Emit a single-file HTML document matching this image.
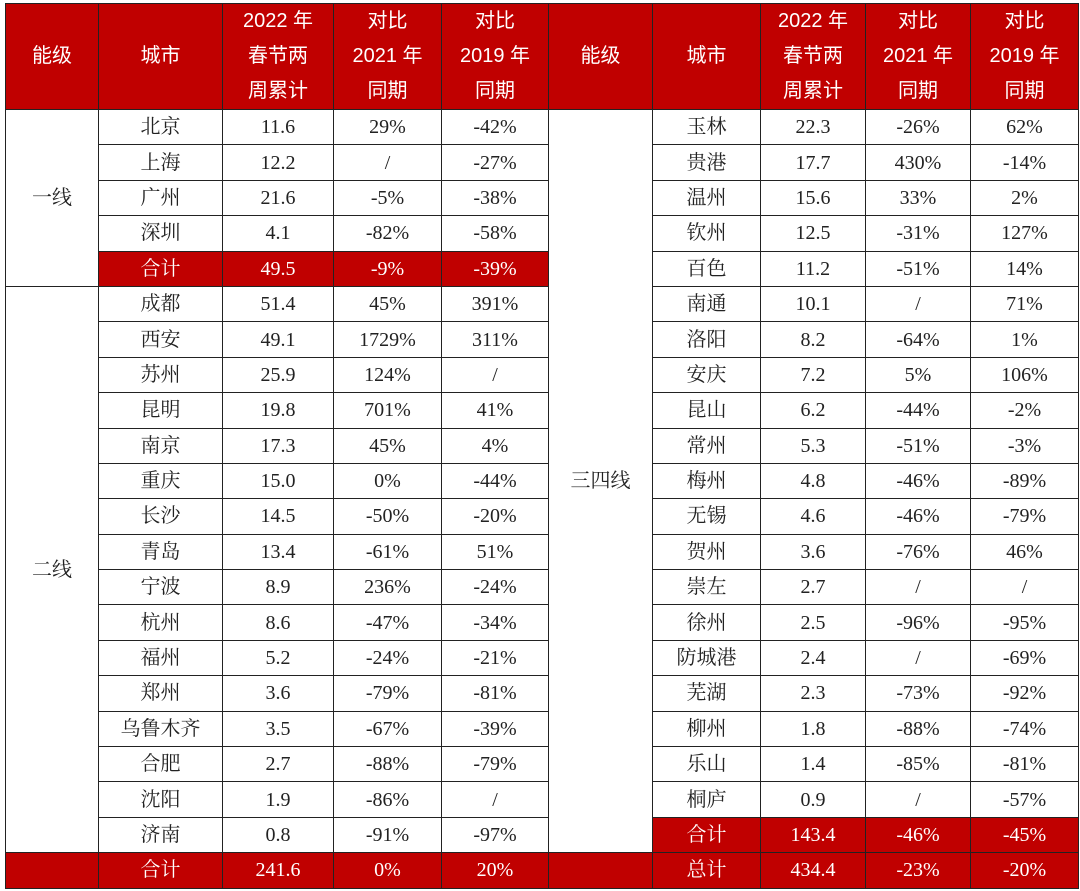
<!DOCTYPE html>
<html><head><meta charset="utf-8">
<style>
html,body{margin:0;padding:0;background:#fff;width:1080px;height:891px;overflow:hidden}
table{position:absolute;left:5px;top:3px;border-collapse:collapse;table-layout:fixed;width:1073px}
td{border:1px solid #222;text-align:center;padding:0;font-family:"Liberation Serif","Noto Serif CJK SC",serif;font-size:20px;color:#222;height:34.4px;line-height:20px;overflow:hidden;white-space:nowrap}
tr.hd td{background:#c00000;color:#fff;font-family:"Liberation Sans","Noto Sans CJK SC",sans-serif;font-size:20px;height:104px;line-height:35px;white-space:normal}
td.red{background:#c00000;color:#fff}
</style></head><body>
<table>
<colgroup><col style="width:93px"><col style="width:124px"><col style="width:111px"><col style="width:108px"><col style="width:107px"><col style="width:104px"><col style="width:108px"><col style="width:105px"><col style="width:105px"><col style="width:108px"></colgroup>
<tbody id="tb">
<tr class="hd">
<td>能级</td>
<td>城市</td>
<td>2022 年<br>春节两<br>周累计</td>
<td>对比<br>2021 年<br>同期</td>
<td>对比<br>2019 年<br>同期</td>
<td>能级</td>
<td>城市</td>
<td>2022 年<br>春节两<br>周累计</td>
<td>对比<br>2021 年<br>同期</td>
<td>对比<br>2019 年<br>同期</td>
</tr>
</tbody></table>
<script>
const leftCities=["北京","上海","广州","深圳","合计","成都","西安","苏州","昆明","南京","重庆","长沙","青岛","宁波","杭州","福州","郑州","乌鲁木齐","合肥","沈阳","济南","合计"];
const leftVal=["11.6","12.2","21.6","4.1","49.5","51.4","49.1","25.9","19.8","17.3","15.0","14.5","13.4","8.9","8.6","5.2","3.6","3.5","2.7","1.9","0.8","241.6"];
const left21=["29%","/","-5%","-82%","-9%","45%","1729%","124%","701%","45%","0%","-50%","-61%","236%","-47%","-24%","-79%","-67%","-88%","-86%","-91%","0%"];
const left19=["-42%","-27%","-38%","-58%","-39%","391%","311%","/","41%","4%","-44%","-20%","51%","-24%","-34%","-21%","-81%","-39%","-79%","/","-97%","20%"];
const rightCities=["玉林","贵港","温州","钦州","百色","南通","洛阳","安庆","昆山","常州","梅州","无锡","贺州","崇左","徐州","防城港","芜湖","柳州","乐山","桐庐","合计","总计"];
const rightVal=["22.3","17.7","15.6","12.5","11.2","10.1","8.2","7.2","6.2","5.3","4.8","4.6","3.6","2.7","2.5","2.4","2.3","1.8","1.4","0.9","143.4","434.4"];
const right21=["-26%","430%","33%","-31%","-51%","/","-64%","5%","-44%","-51%","-46%","-46%","-76%","/","-96%","/","-73%","-88%","-85%","/","-46%","-23%"];
const right19=["62%","-14%","2%","127%","14%","71%","1%","106%","-2%","-3%","-89%","-79%","46%","/","-95%","-69%","-92%","-74%","-81%","-57%","-45%","-20%"];
const tb=document.getElementById('tb');
function cell(tr,txt,red,name,span){
  const td=document.createElement('td');
  td.textContent=txt;
  if(red)td.className='red';
  if(span)td.rowSpan=span;
  
  
  tr.appendChild(td);
}
for(let i=0;i<22;i++){
  const tr=document.createElement('tr');
  
  
  const lred=(i===4||i===21);
  if(i===0)cell(tr,"一线",false,'tier-first',5);
  if(i===5)cell(tr,"二线",false,'tier-second',16);
  if(i===21)cell(tr,"",true,'tier-total-left');
  cell(tr,leftCities[i],lred,'left-city');
  cell(tr,leftVal[i],lred,'left-value');
  cell(tr,left21[i],lred,'left-vs-2021');
  cell(tr,left19[i],lred,'left-vs-2019');
  if(i===0)cell(tr,"三四线",false,'tier-third-fourth',21);
  if(i===21)cell(tr,"",true,'tier-total-right');
  const rred=(i>=20);
  cell(tr,rightCities[i],rred,'right-city');
  cell(tr,rightVal[i],rred,'right-value');
  cell(tr,right21[i],rred,'right-vs-2021');
  cell(tr,right19[i],rred,'right-vs-2019');
  tb.appendChild(tr);
}
</script>
</body></html>
